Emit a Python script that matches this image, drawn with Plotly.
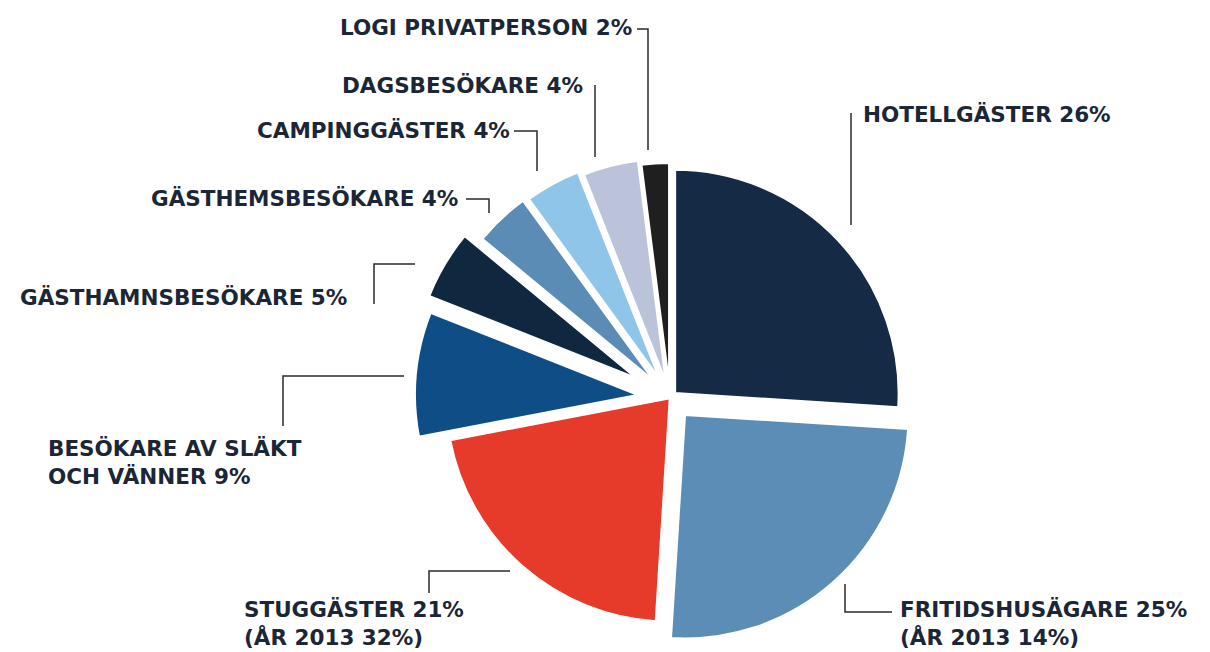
import plotly.graph_objects as go

# ---- data ----
categories = ["HOTELLGÄSTER", "FRITIDSHUSÄGARE", "STUGGÄSTER", "BESÖKARE AV SLÄKT<br>OCH VÄNNER",
              "GÄSTHAMNSBESÖKARE", "GÄSTHEMSBESÖKARE", "CAMPINGGÄSTER", "DAGSBESÖKARE", "LOGI PRIVATPERSON"]
shares = [26, 25, 21, 9, 5, 4, 4, 4, 2]
notes_2013 = ["", "(ÅR 2013 14%)", "(ÅR 2013 32%)", "", "", "", "", "", ""]

# ---- style ----
colors = ["#142a45", "#5b8db6", "#e63b2a", "#0f4d87", "#10283f", "#5a8cb6", "#8ec5e8", "#bac3d9", "#1f1f1f"]
pulls = [0.03, 0.1, 0.0, 0.14, 0.17, 0.1, 0.09, 0.07, 0.05]

# screen-pixel layout (page body adds an 8px margin, compensated below)
OFF = 8
FS = 21.5
# (x, y of first text line centre, x-anchor)
label_pos = [(862, 114, "left"), (899, 610, "left"), (243, 610, "left"), (47, 449, "left"),
             (348, 297, "right"), (459, 198, "right"), (511, 130, "right"), (584, 85, "right"),
             (633, 27, "right")]
leaders = [
    [(851, 113), (851, 225)],
    [(845, 584), (845, 612), (892, 612)],
    [(510, 571), (429, 571), (429, 593)],
    [(404, 376), (283, 376), (283, 426)],
    [(415, 264), (374, 264), (374, 304)],
    [(466, 199), (489, 199), (489, 213)],
    [(514, 131), (537, 131), (537, 171)],
    [(595, 85), (595, 157)],
    [(637, 29), (648, 29), (648, 150)],
]

W, H = 1210, 652
cx, cy = 670 - OFF, 398 - OFF
r = 224
maxpull = max(pulls)
box = 2 * r * (1 + maxpull)
box_w = 800

fig = go.Figure()
fig.add_trace(go.Pie(
    labels=[c.replace("<br>", " ") for c in categories],
    values=shares,
    sort=False,
    direction="clockwise",
    rotation=0,
    pull=pulls,
    marker=dict(colors=colors, line=dict(color="white", width=2.5)),
    textinfo="none",
    hoverinfo="label+percent",
    showlegend=False,
    domain=dict(x=[(cx - box_w / 2) / W, (cx + box_w / 2) / W],
                y=[max(0, (H - cy - box / 2) / H), min(1, (H - cy + box / 2) / H)]),
))

# invisible pixel-coordinate axes for labels and leaders
fig.update_xaxes(range=[0, W], visible=False, fixedrange=True)
fig.update_yaxes(range=[H, 0], visible=False, fixedrange=True)

font = dict(family="DejaVu Sans", size=FS, color="#1b2636", weight="bold")

for cat, val, note, (x, y, anchor) in zip(categories, shares, notes_2013, label_pos):
    text = f"{cat} {val}%"
    if note:
        text += "<br>" + note
    n = text.count("<br>") + 1
    yc = y + (n - 1) * FS * 1.3 / 2
    fig.add_annotation(x=x - OFF, y=yc - OFF, xref="x", yref="y", text=text,
                       showarrow=False, xanchor=anchor, yanchor="middle", align="left",
                       font=font, borderpad=0)

for pts in leaders:
    path = "M " + " L ".join(f"{px - OFF} {py - OFF}" for px, py in pts)
    fig.add_shape(type="path", path=path, xref="x", yref="y",
                  line=dict(color="#2a2a2a", width=1.5))

fig.update_layout(
    width=W, height=H,
    margin=dict(l=0, r=0, t=0, b=0),
    paper_bgcolor="white", plot_bgcolor="white",
)

fig.write_html("out.html")
